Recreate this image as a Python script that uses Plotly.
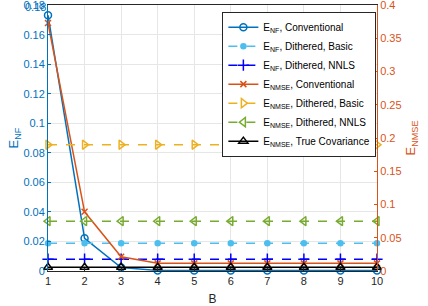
import plotly.graph_objects as go

B = [1, 2, 3, 4, 5, 6, 7, 8, 9, 10]
enf_conventional = [0.1732, 0.0221, 0.0023, 0.0004, 0.0004, 0.0004, 0.0004, 0.0004, 0.0004, 0.0004]
enf_dith_basic = [0.0188, 0.0188, 0.0188, 0.0188, 0.0188, 0.0188, 0.0188, 0.0188, 0.0188, 0.0188]
enf_dith_nnls = [0.0080, 0.0080, 0.0080, 0.0080, 0.0080, 0.0080, 0.0080, 0.0080, 0.0080, 0.0080]
enmse_conventional = [0.373, 0.089, 0.0215, 0.0115, 0.0115, 0.0115, 0.0115, 0.0115, 0.0115, 0.0115]
enmse_dith_basic = [0.190, 0.190, 0.190, 0.190, 0.190, 0.190, 0.190, 0.190, 0.190, 0.190]
enmse_dith_nnls = [0.075, 0.075, 0.075, 0.075, 0.075, 0.075, 0.075, 0.075, 0.075, 0.075]
enmse_true_cov = [0.0055, 0.0055, 0.0055, 0.0055, 0.0055, 0.0055, 0.0055, 0.0055, 0.0055, 0.0055]

x_ticks = [1, 2, 3, 4, 5, 6, 7, 8, 9, 10]
left_ticks = [0, 0.02, 0.04, 0.06, 0.08, 0.1, 0.12, 0.14, 0.16, 0.18]
left_labels = ["0", "0.02", "0.04", "0.06", "0.08", "0.1", "0.12", "0.14", "0.16", "0.18"]
right_ticks = [0, 0.05, 0.1, 0.15, 0.2, 0.25, 0.3, 0.35, 0.4]
right_labels = ["0", "0.05", "0.1", "0.15", "0.2", "0.25", "0.3", "0.35", "0.4"]

BLUE = "#0072BD"
LBLUE = "#4DBEEE"
PBLUE = "#0000FF"
ORANGE = "#D95319"
YELLOW = "#EDB120"
GREEN = "#77AC30"
BLACK = "#000000"
FONT = "Liberation Sans, Arial, sans-serif"

fig = go.Figure()

def add(y, name, color, dash, symbol, size, yaxis, width=1.5):
    fig.add_trace(go.Scatter(
        x=B, y=y, name=name, yaxis=yaxis, mode="lines+markers",
        line=dict(color=color, width=width, dash=dash),
        marker=dict(symbol=symbol, size=size, color=color,
                    line=dict(color=color, width=1.5)),
        cliponaxis=False,
    ))

add(enf_conventional, "E<sub>NF</sub>, Conventional", BLUE, "solid", "circle-open", 7, "y")
add(enf_dith_basic, "E<sub>NF</sub>, Dithered, Basic", LBLUE, "dash", "circle", 5, "y")
add(enf_dith_nnls, "E<sub>NF</sub>, Dithered, NNLS", PBLUE, "dash", "cross-thin-open", 8, "y")
add(enmse_conventional, "E<sub>NMSE</sub>, Conventional", ORANGE, "solid", "x-thin-open", 6, "y2")
add(enmse_dith_basic, "E<sub>NMSE</sub>, Dithered, Basic", YELLOW, "dash", "triangle-right-open", 8, "y2")
add(enmse_dith_nnls, "E<sub>NMSE</sub>, Dithered, NNLS", GREEN, "dash", "triangle-left-open", 8, "y2")
add(enmse_true_cov, "E<sub>NMSE</sub>, True Covariance", BLACK, "solid", "triangle-up-open", 8, "y2")

fig.update_layout(
    width=428, height=306,
    margin=dict(l=48, r=51, t=5, b=35, autoexpand=False),
    paper_bgcolor="white", plot_bgcolor="white",
    font=dict(family=FONT, size=11, color="#262626"),
    showlegend=True,
    legend=dict(
        x=0.53, y=0.975, xanchor="left", yanchor="top",
        bgcolor="white", bordercolor="#262626", borderwidth=1,
        font=dict(family=FONT, size=10, color="#000000"),
        tracegroupgap=0, itemwidth=30,
    ),
    xaxis=dict(
        range=[1, 10], tickvals=x_ticks, ticktext=[str(v) for v in x_ticks],
        showgrid=True, gridcolor="#e6e6e6", gridwidth=1, zeroline=False,
        showline=True, linecolor="#262626", linewidth=1, mirror=True,
        ticks="inside", ticklen=3, tickcolor="#262626",
        tickfont=dict(size=11, color="#262626"), automargin=False,
        title=dict(text="B", font=dict(size=12, color="#262626"), standoff=8),
    ),
    yaxis=dict(
        range=[0, 0.1801], tickvals=left_ticks, ticktext=left_labels,
        showgrid=True, gridcolor="#e6e6e6", gridwidth=1, zeroline=False,
        showline=True, linecolor=BLUE, linewidth=1,
        ticks="inside", ticklen=3, tickcolor=BLUE, ticklabeloverflow="allow",
        tickfont=dict(size=11, color=BLUE), automargin=False,
        title=dict(text="E<sub>NF</sub>", font=dict(size=13, color=BLUE), standoff=1),
    ),
    yaxis2=dict(
        range=[0, 0.4002], tickvals=right_ticks, ticktext=right_labels,
        overlaying="y", side="right", anchor="x",
        showgrid=False, zeroline=False,
        showline=True, linecolor=ORANGE, linewidth=1,
        ticks="inside", ticklen=3, tickcolor=ORANGE, ticklabeloverflow="allow",
        tickfont=dict(size=11, color=ORANGE), automargin=False,
        title=dict(text="E<sub>NMSE</sub>", font=dict(size=13, color=ORANGE), standoff=5),
    ),
)

# top-most left tick label (plotly hides it at the div edge)
fig.add_annotation(
    x=0, xref="paper", y=left_ticks[-1], yref="y",
    text=left_labels[-1], showarrow=False, xanchor="right", yanchor="middle",
    xshift=-1, yshift=-2, borderpad=0, font=dict(family=FONT, size=11, color=BLUE),
)

fig.write_html("out.html", config={"displayModeBar": False},
               post_script="document.body.style.margin='0';document.body.style.padding='0';")
